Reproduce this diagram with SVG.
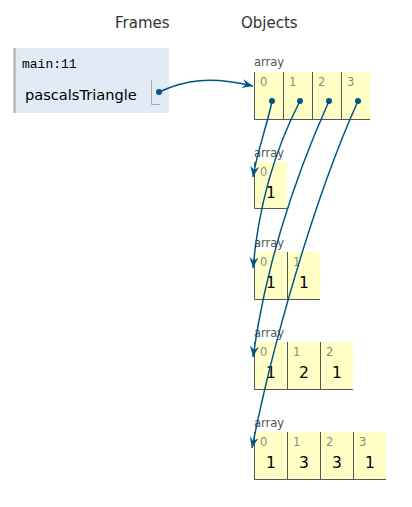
<svg xmlns="http://www.w3.org/2000/svg" width="412" height="507" viewBox="0 0 412 507">
<style>
.hdr{font-family:"DejaVu Sans",Verdana,sans-serif;font-size:15px;fill:#333}
.fn{font-family:"Liberation Mono","Courier New",monospace;font-size:13px;fill:#000}
.var{font-family:"DejaVu Sans",Verdana,sans-serif;font-size:14.6px;fill:#000}
.typ{font-family:"DejaVu Sans",Verdana,sans-serif;font-size:11.5px;fill:#555}
.idx{font-family:"DejaVu Sans",Verdana,sans-serif;font-size:11.5px;fill:#8a8a80}
.val{font-family:"DejaVu Sans",Verdana,sans-serif;font-size:15.5px;fill:#000;text-anchor:middle}
.cell{fill:#ffffc6}
.bd{stroke:#555;stroke-width:1;fill:none}
.dot{fill:#005583}
.conn{stroke:#005583;stroke-width:1.5;fill:none;marker-end:url(#ah)}
</style>
<defs>
<marker id="ah" markerUnits="userSpaceOnUse" markerWidth="12" markerHeight="9" refX="11" refY="4.5" orient="auto" viewBox="0 0 12 9">
<path d="M0,0 L11,4.5 L0,9 L4,4.5 z" fill="#005583"/>
</marker>
</defs>
<rect width="412" height="507" fill="#fff"/>
<text class="hdr" x="115" y="28">Frames</text>
<text class="hdr" x="241" y="28">Objects</text>

<g id="frame_main">
<rect x="14" y="48" width="155" height="65" fill="#e2eaf6"/>
<line x1="14.5" y1="48" x2="14.5" y2="113" stroke="#aaa" stroke-width="2"/>
<text class="fn" x="22" y="68">main:11</text>
<text class="var" x="25" y="100">pascalsTriangle</text>
<path d="M151.5,80 V104.5 H160" stroke="#aaa" stroke-width="1" fill="none"/>
<circle class="dot" cx="159" cy="92" r="3"/>
</g>

<g id="array_outer">
<text class="typ" x="254" y="66">array</text>
<rect class="cell" x="254" y="72" width="116" height="48"/>
<path class="bd" d="M254.5,72 V119.5 H370 M283.5,72 V119.5 M312.5,72 V119.5 M341.5,72 V119.5"/>
<text class="idx" x="260" y="86">0</text>
<text class="idx" x="289" y="86">1</text>
<text class="idx" x="318" y="86">2</text>
<text class="idx" x="347" y="86">3</text>
<circle class="dot" cx="272" cy="101" r="3"/>
<circle class="dot" cx="300" cy="101" r="3"/>
<circle class="dot" cx="329" cy="101" r="3"/>
<circle class="dot" cx="358" cy="101" r="3"/>
</g>

<g id="array_row0">
<text class="typ" x="254" y="157">array</text>
<rect class="cell" x="254" y="162" width="33" height="47"/>
<path class="bd" d="M254.5,162 V208.5 H287"/>
<text class="idx" x="260" y="176">0</text>
<text class="val" x="271" y="198">1</text>
</g>

<g id="array_row1">
<text class="typ" x="254" y="247">array</text>
<rect class="cell" x="254" y="252" width="66" height="48"/>
<path class="bd" d="M254.5,252 V299.5 H320 M287.5,252 V299.5"/>
<text class="idx" x="260" y="266">0</text>
<text class="idx" x="293" y="266">1</text>
<text class="val" x="271" y="288">1</text>
<text class="val" x="304" y="288">1</text>
</g>

<g id="array_row2">
<text class="typ" x="254" y="337">array</text>
<rect class="cell" x="254" y="342" width="99" height="48"/>
<path class="bd" d="M254.5,342 V389.5 H353 M287.5,342 V389.5 M320.5,342 V389.5"/>
<text class="idx" x="260" y="356">0</text>
<text class="idx" x="293" y="356">1</text>
<text class="idx" x="326" y="356">2</text>
<text class="val" x="271" y="378">1</text>
<text class="val" x="304" y="378">2</text>
<text class="val" x="337" y="378">1</text>
</g>

<g id="array_row3">
<text class="typ" x="254" y="427">array</text>
<rect class="cell" x="254" y="432" width="132" height="48"/>
<path class="bd" d="M254.5,432 V479.5 H386 M287.5,432 V479.5 M320.5,432 V479.5 M353.5,432 V479.5"/>
<text class="idx" x="260" y="446">0</text>
<text class="idx" x="293" y="446">1</text>
<text class="idx" x="326" y="446">2</text>
<text class="idx" x="359" y="446">3</text>
<text class="val" x="271" y="468">1</text>
<text class="val" x="304" y="468">3</text>
<text class="val" x="337" y="468">3</text>
<text class="val" x="370" y="468">1</text>
</g>

<g id="connectors">
<path class="conn" d="M159,92 C185,80 210,76 253,86"/>
<path class="conn" d="M272,101 C267,126 257,152 253,177"/>
<path class="conn" d="M300,101 C271,157 258,212 253,268"/>
<path class="conn" d="M329,101 C291,186 265,271 253,357"/>
<path class="conn" d="M358,101 C313,201 272,347 252,448"/>
</g>
</svg>
